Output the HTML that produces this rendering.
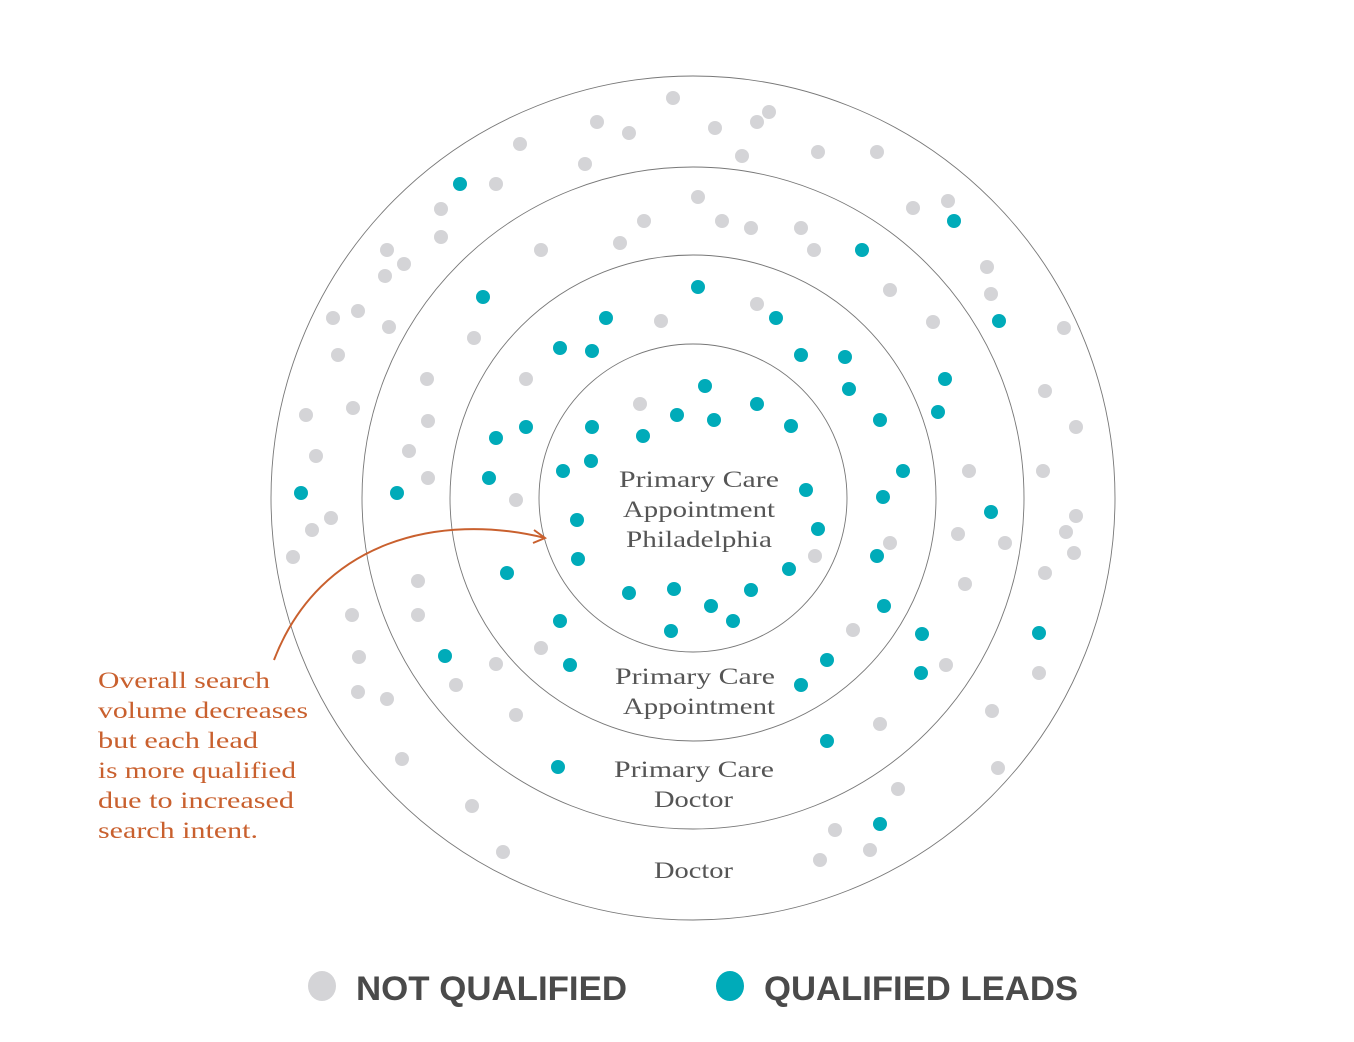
<!DOCTYPE html>
<html><head><meta charset="utf-8"><style>
html,body{margin:0;padding:0;background:#fff;}
svg{display:block;}
.lbl{font-family:"Liberation Serif",serif;font-size:23px;fill:#555;}
.note{font-family:"Liberation Serif",serif;font-size:23px;fill:#c9602e;}
.leg{font-family:"Liberation Sans",sans-serif;font-weight:bold;font-size:34px;fill:#4a4a4a;}
</style></head><body>
<svg width="1354" height="1042" viewBox="0 0 1354 1042" xmlns="http://www.w3.org/2000/svg">
<g fill="none" stroke="#777" stroke-width="0.9">
<circle cx="693" cy="498" r="422"/>
<circle cx="693" cy="498" r="331"/>
<circle cx="693" cy="498" r="243"/>
<circle cx="693" cy="498" r="154"/>
</g>
<g fill="#d4d4d7" id="g"></g>
<g fill="#00abb9" id="t"></g>
<path d="M274,660 C320,540 440,512 545,538" fill="none" stroke="#c9602e" stroke-width="2"/>
<path d="M534,530 L545,538 L533,543" fill="none" stroke="#c9602e" stroke-width="2"/>
<g lengthAdjust="spacingAndGlyphs">
<text class="lbl" x="619" y="487" textLength="160" lengthAdjust="spacingAndGlyphs">Primary Care</text>
<text class="lbl" x="623" y="517" textLength="152" lengthAdjust="spacingAndGlyphs">Appointment</text>
<text class="lbl" x="626" y="547" textLength="146" lengthAdjust="spacingAndGlyphs">Philadelphia</text>
<text class="lbl" x="615" y="684" textLength="160" lengthAdjust="spacingAndGlyphs">Primary Care</text>
<text class="lbl" x="623" y="714" textLength="152" lengthAdjust="spacingAndGlyphs">Appointment</text>
<text class="lbl" x="614" y="777" textLength="160" lengthAdjust="spacingAndGlyphs">Primary Care</text>
<text class="lbl" x="654" y="807" textLength="79" lengthAdjust="spacingAndGlyphs">Doctor</text>
<text class="lbl" x="654" y="878" textLength="79" lengthAdjust="spacingAndGlyphs">Doctor</text>
<text class="note" x="98" y="688" textLength="172" lengthAdjust="spacingAndGlyphs">Overall search</text>
<text class="note" x="98" y="718" textLength="210" lengthAdjust="spacingAndGlyphs">volume decreases</text>
<text class="note" x="98" y="748" textLength="160" lengthAdjust="spacingAndGlyphs">but each lead</text>
<text class="note" x="98" y="778" textLength="198" lengthAdjust="spacingAndGlyphs">is more qualified</text>
<text class="note" x="98" y="808" textLength="196" lengthAdjust="spacingAndGlyphs">due to increased</text>
<text class="note" x="98" y="838" textLength="160" lengthAdjust="spacingAndGlyphs">search intent.</text>
</g>
<ellipse cx="322" cy="986" rx="14" ry="15" fill="#d4d4d7"/>
<ellipse cx="730" cy="986" rx="14" ry="15" fill="#00abb9"/>
<text class="leg" x="356" y="1000" textLength="271" lengthAdjust="spacingAndGlyphs">NOT QUALIFIED</text>
<text class="leg" x="764" y="1000" textLength="314" lengthAdjust="spacingAndGlyphs">QUALIFIED LEADS</text>
</svg>
<script>
var G=[[673,98],[597,122],[629,133],[715,128],[757,122],[769,112],[520,144],[585,164],[742,156],[818,152],[877,152],[496,184],[441,209],[913,208],[948,201],[441,237],[387,250],[404,264],[385,276],[987,267],[991,294],[333,318],[358,311],[389,327],[1064,328],[338,355],[427,379],[353,408],[306,415],[1045,391],[1076,427],[316,456],[428,421],[409,451],[428,478],[969,471],[1043,471],[331,518],[312,530],[293,557],[1076,516],[1066,532],[1005,543],[1074,553],[958,534],[1045,573],[965,584],[418,581],[352,615],[418,615],[359,657],[358,692],[387,699],[456,685],[496,664],[541,648],[516,715],[402,759],[472,806],[503,852],[835,830],[820,860],[870,850],[898,789],[880,724],[992,711],[998,768],[1039,673],[946,665],[853,630],[890,543],[815,556],[698,197],[722,221],[751,228],[801,228],[814,250],[644,221],[620,243],[541,250],[890,290],[933,322],[474,338],[526,379],[516,500],[661,321],[757,304],[640,404]];
var T=[[460,184],[954,221],[862,250],[483,297],[999,321],[698,287],[606,318],[776,318],[560,348],[592,351],[801,355],[845,357],[849,389],[945,379],[938,412],[880,420],[903,471],[883,497],[991,512],[877,556],[884,606],[922,634],[1039,633],[921,673],[827,660],[801,685],[827,741],[880,824],[558,767],[570,665],[560,621],[445,656],[507,573],[301,493],[397,493],[489,478],[496,438],[526,427],[705,386],[677,415],[714,420],[757,404],[791,426],[643,436],[592,427],[563,471],[591,461],[806,490],[818,529],[577,520],[578,559],[789,569],[629,593],[674,589],[711,606],[751,590],[671,631],[733,621]];
function put(id,a){var g=document.getElementById(id),s='';a.forEach(function(p){s+='<circle cx="'+p[0]+'" cy="'+p[1]+'" r="7"/>';});g.innerHTML=s;}
put('g',G);put('t',T);
</script>
</body></html>
